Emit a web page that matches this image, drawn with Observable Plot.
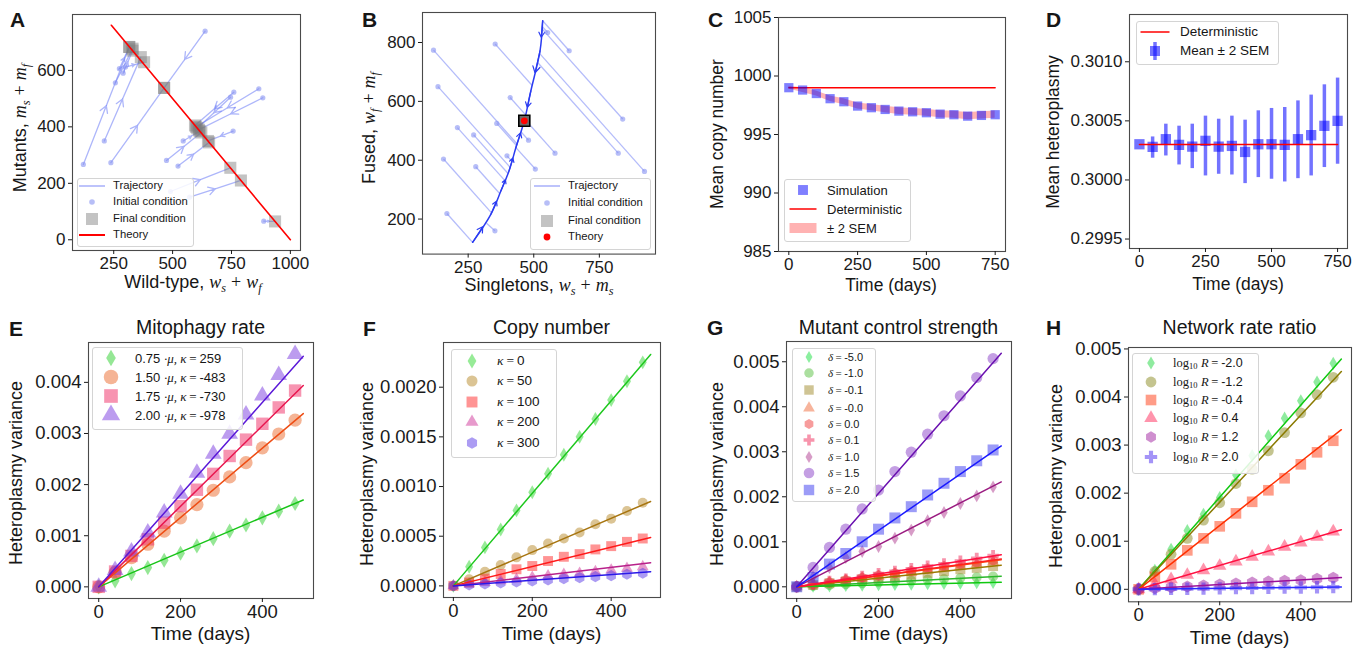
<!DOCTYPE html>
<html><head><meta charset="utf-8">
<script src="https://cdn.jsdelivr.net/npm/d3@7"></script>
<script src="https://cdn.jsdelivr.net/npm/@observablehq/plot@0.6"></script>
<style>
html,body{margin:0;padding:0;background:#fff;}
#page{position:relative;width:1367px;height:651px;overflow:hidden;font-family:"Liberation Sans",Arial,Helvetica,sans-serif;color:#161616;}
.abs{position:absolute;white-space:nowrap;line-height:1;}
.m{font-family:"Liberation Serif","DejaVu Serif",serif;font-style:italic;}
.rm{font-family:"Liberation Serif","DejaVu Serif",serif;font-style:normal;}
.eq{font-family:"Liberation Serif","DejaVu Serif",serif;font-style:normal;margin:0 0.22em;}
sub{font-size:0.68em;vertical-align:-0.32em;line-height:0;}
.lgbox{position:absolute;border:1px solid #d4d4d4;border-radius:3px;background:rgba(255,255,255,0.85);}
</style></head><body><div id="page"></div>
<script>
// ================= DATA =================
// Panel A : trajectories in (wild-type, mutant) space
const aInitW = [638, 121, 210, 238, 257, 274, 290, 300, 866, 883, 760, 746, 757, 545, 474, 523, 491, 572, 887];
const aInitM = [739, 267, 350, 273, 556, 606, 590, 612, 535, 503, 523, 505, 385, 350, 281, 261, 171, 151, 66];
const aFinW  = [464, 316, 365, 464, 330, 316, 330, 379, 600, 612, 595, 605, 650, 615, 622, 655, 745, 790, 935];
const aFinM  = [538, 683, 647, 538, 677, 683, 670, 629, 400, 390, 405, 395, 350, 385, 380, 345, 255, 210, 65];
const aTheoryW = [240, 1000];
const aTheoryM = [760, 0];
const aLegend = ["Trajectory", "Initial condition", "Final condition", "Theory"];

// Panel B : trajectories in (singletons, fused) space
const bInitX = [118, 135, 209, 156, 169, 353, 359, 271, 279, 398, 410, 480, 506, 352, 553, 635, 581, 822, 839, 922];
const bInitY = [774, 650, 511, 404, 219, 795, 525, 486, 378, 415, 613, 468, 370, 160, 834, 772, 424, 424, 540, 362];
const bJoinX = [437, 410, 391, 339, 267, 494, 434, 402, 370, 417, 469, 451, 432, 320, 532, 534, 465, 514, 531, 522];
const bJoinY = [455, 376, 330, 221, 121, 654, 450, 355, 287, 396, 554, 497, 443, 186, 855, 874, 540, 733, 847, 763];
const bManX = [534, 524, 489, 464, 432, 406, 375, 337, 267];
const bManY = [874, 772, 636, 534, 443, 364, 296, 217, 121];
const bFixed = [464, 534];
const bLegend = ["Trajectory", "Initial condition", "Final condition", "Theory"];

// Panel C : mean copy number
const cTime = [0, 50, 100, 150, 200, 250, 300, 350, 400, 450, 500, 550, 600, 650, 700, 750];
const cSim  = [999.0, 998.8, 998.5, 998.06, 997.8, 997.43, 997.29, 997.14, 997.0, 996.94, 996.86, 996.74, 996.69, 996.57, 996.63, 996.69];
const cSem2 = [0.12, 0.2, 0.22, 0.24, 0.25, 0.26, 0.27, 0.28, 0.28, 0.29, 0.29, 0.3, 0.3, 0.3, 0.31, 0.31];
const cDet = 999.0;
const cLegend = ["Simulation", "Deterministic", "± 2 SEM"];

// Panel D : mean heteroplasmy
const dTime = [0, 50, 100, 150, 200, 250, 300, 350, 400, 450, 500, 550, 600, 650, 700, 750];
const dMean = [0.300302, 0.300280, 0.300345, 0.300297, 0.300282, 0.300331, 0.300282, 0.300288, 0.300237, 0.300302, 0.300302, 0.300297, 0.300345, 0.300379, 0.300458, 0.300500];
const dHi   = [0.300302, 0.300364, 0.300472, 0.300455, 0.300472, 0.300540, 0.300514, 0.300540, 0.300506, 0.300585, 0.300605, 0.300613, 0.300669, 0.300718, 0.300805, 0.300862];
const dLo   = [0.300302, 0.300184, 0.300203, 0.300127, 0.300096, 0.300034, 0.300048, 0.300042, 0.299969, 0.300020, 0.300006, 0.299983, 0.300011, 0.300034, 0.300105, 0.300133];
const dDet = 0.3003;
const dLegend = ["Deterministic", "Mean ± 2 SEM"];

// Panels E-H : heteroplasmy variance vs time
const vTime = [0, 40, 80, 120, 160, 200, 240, 280, 320, 360, 400, 440, 480];
const fitTime = [0, 500];

const eMu = ["0.75", "1.50", "1.75", "2.00"];
const eKappa = ["259", "-483", "-730", "-978"];
const eV075 = [0, 0.000117, 0.00026, 0.000377, 0.00052, 0.000657, 0.0008, 0.000943, 0.00109, 0.00121, 0.00135, 0.00148, 0.00163];
const eV150 = [0, 0.00028, 0.000572, 0.000833, 0.00109, 0.00135, 0.00161, 0.00189, 0.00215, 0.00243, 0.00272, 0.00299, 0.00326];
const eV175 = [0, 0.0003, 0.000605, 0.00093, 0.001255, 0.00158, 0.0019, 0.00221, 0.00256, 0.00288, 0.00319, 0.00351, 0.00384];
const eV200 = [0, 0.000325, 0.00069, 0.00106, 0.00145, 0.00182, 0.00223, 0.0026, 0.00299, 0.00337, 0.00374, 0.00414, 0.00455];
const eFitEnd = [0.0017, 0.00339, 0.00394, 0.00451];

const fKappa = ["0", "50", "100", "200", "300"];
const fV0   = [0, 0.000193, 0.000387, 0.000567, 0.00076, 0.000943, 0.00113, 0.00132, 0.0015, 0.00168, 0.00187, 0.00206, 0.00225];
const fV50  = [0, 0.000067, 0.000143, 0.00021, 0.000287, 0.00036, 0.000427, 0.000477, 0.000537, 0.00062, 0.000677, 0.000753, 0.000837];
const fV100 = [0, 0.000033, 0.000073, 0.00012, 0.000167, 0.0002, 0.00025, 0.000293, 0.00032, 0.000367, 0.0004, 0.000443, 0.000477];
const fV200 = [0, 0.00002, 0.000033, 0.00005, 0.000067, 0.000087, 0.0001, 0.000117, 0.000127, 0.000143, 0.00016, 0.000177, 0.000193];
const fV300 = [0, 0.00001, 0.00002, 0.00003, 0.00004, 0.00005, 0.00006, 0.000073, 0.000083, 0.000093, 0.000103, 0.000117, 0.000127];
const fFitEnd = [0.00233, 0.00085, 0.000487, 0.000233, 0.000143];

const gDelta = ["-5.0", "-1.0", "-0.1", "-0.0", "0.0", "0.1", "1.0", "1.5", "2.0"];
const gVm50 = [0, 0.000008, 0.000015, 0.000022, 0.00003, 0.000038, 0.000046, 0.000052, 0.00006, 0.000068, 0.000075, 0.000083, 0.00009];
const gVm10 = [0, 0.00002, 0.00004, 0.000058, 0.00008, 0.0001, 0.000118, 0.000135, 0.000155, 0.000175, 0.000195, 0.00021, 0.00023];
const gVm01 = [0, 0.00004, 0.00008, 0.00012, 0.00016, 0.0002, 0.000235, 0.00027, 0.00031, 0.00035, 0.00039, 0.00042, 0.00046];
const gVm00 = [0, 0.000045, 0.00009, 0.00014, 0.00019, 0.00023, 0.00028, 0.00032, 0.00037, 0.00042, 0.00046, 0.0005, 0.00055];
const gVp00 = [0, 0.00005, 0.0001, 0.00015, 0.0002, 0.00025, 0.0003, 0.00035, 0.0004, 0.00045, 0.0005, 0.00054, 0.00059];
const gVp01 = [0, 0.00006, 0.00012, 0.00017, 0.00023, 0.00029, 0.00034, 0.0004, 0.00046, 0.00051, 0.00057, 0.00063, 0.00069];
const gVp10 = [0, 0.000222, 0.00043, 0.00065, 0.000785, 0.000896, 0.00108, 0.00126, 0.00147, 0.00165, 0.00185, 0.00202, 0.00222];
const gVp15 = [0, 0.00043, 0.000874, 0.00128, 0.00173, 0.00215, 0.00256, 0.00299, 0.00339, 0.0038, 0.00424, 0.00465, 0.00507];
const gVp20 = [0, 0.000207, 0.000504, 0.00074, 0.001, 0.00128, 0.00153, 0.00178, 0.00204, 0.0023, 0.00256, 0.0028, 0.00304];
const gFitEnd = [0.0001, 0.000237, 0.00048, 0.0006, 0.00062, 0.00071, 0.00233, 0.00519, 0.00313];

const hLogR = ["-2.0", "-1.2", "-0.4", "0.4", "1.2", "2.0"];
const hVm20 = [0, 0.000396, 0.000833, 0.00122, 0.00156, 0.00191, 0.00238, 0.00278, 0.00319, 0.00356, 0.00392, 0.00431, 0.0047];
const hVm12 = [0, 0.00037, 0.00073, 0.00106, 0.00144, 0.0018, 0.0022, 0.0025, 0.00288, 0.00326, 0.00367, 0.00405, 0.00441];
const hVm04 = [0, 0.000257, 0.00052, 0.00081, 0.00106, 0.00131, 0.00158, 0.00182, 0.00206, 0.00231, 0.0026, 0.00285, 0.00309];
const hVp04 = [0, 0.000104, 0.000208, 0.000299, 0.000396, 0.000486, 0.000576, 0.000674, 0.000785, 0.000882, 0.000972, 0.00109, 0.0012];
const hVp12 = [0, 0.00002, 0.000045, 0.00006, 0.00008, 0.0001, 0.00012, 0.00014, 0.00016, 0.00018, 0.00019, 0.00022, 0.00024];
const hVp20 = [0, 0.000004, 0.000008, 0.000012, 0.000015, 0.00002, 0.000024, 0.000027, 0.000031, 0.000035, 0.000038, 0.000042, 0.000045];
const hFitEnd = [0.00479, 0.00453, 0.00332, 0.00124, 0.000243, 0.00005];

// ================= STYLES =================
const FONT = '"Liberation Sans", Arial, Helvetica, sans-serif';
const eStyle = [
  {sym: "diamond", r: 4.6, fill: "#2ccf2c", line: "#18c418"},
  {sym: "circle", r: 6.6, fill: "#ec6a2c", line: "#ee4d14"},
  {sym: "square", r: 7.0, fill: "#ef2a64", line: "#e8174f"},
  {sym: "triangle", r: 6.2, fill: "#7a3ae0", line: "#5a18d8"}];
const fStyle = [
  {sym: "diamond", r: 4.2, fill: "#2fd82f", line: "#1ec81e"},
  {sym: "circle", r: 5.0, fill: "#b88a2a", line: "#a77510"},
  {sym: "square", r: 5.6, fill: "#ff2a2a", line: "#ff1a1a"},
  {sym: "triangle", r: 4.4, fill: "#d0359a", line: "#b8208a"},
  {sym: "hexagon", r: 4.8, fill: "#5a3ae8", line: "#2a18e8"}];
const gStyle = [
  {sym: "diamond", r: 3.8, fill: "#18e040", line: "#10c810"},
  {sym: "circle", r: 5.0, fill: "#58c040", line: "#2ab82a"},
  {sym: "square", r: 5.6, fill: "#a08a2a", line: "#9a7a00"},
  {sym: "triangle", r: 4.6, fill: "#f06a3a", line: "#ff4a10"},
  {sym: "hexagon", r: 4.8, fill: "#f03a3a", line: "#ff2020"},
  {sym: "cross", r: 4.8, fill: "#f02a5a", line: "#ff1040"},
  {sym: "diamond", r: 3.9, fill: "#b03a90", line: "#9a1a80"},
  {sym: "circle", r: 5.6, fill: "#8a40c8", line: "#6a10b0"},
  {sym: "square", r: 6.2, fill: "#3a3af0", line: "#1a1aff"}];
const hStyle = [
  {sym: "diamond", r: 4.0, fill: "#20d840", line: "#10c810"},
  {sym: "circle", r: 5.4, fill: "#8a8a20", line: "#8a7a00"},
  {sym: "square", r: 6.0, fill: "#ff3a10", line: "#ff3000"},
  {sym: "triangle", r: 5.0, fill: "#ff2a5a", line: "#ff1040"},
  {sym: "hexagon", r: 5.2, fill: "#a020a0", line: "#9a109a"},
  {sym: "cross", r: 5.2, fill: "#4a2af0", line: "#2a2aff"}];

const page = document.getElementById("page");

// ================= HELPERS =================
function panel(frame, xDomain, yDomain, xTicks, yTicks, xFmt, yFmt, tickFont, marks) {
  const mL = 78, mR = 16, mT = 12, mB = 36;
  const w = frame.x1 - frame.x0 + mL + mR;
  const h = frame.y1 - frame.y0 + mT + mB;
  const svg = Plot.plot({
    width: w, height: h, marginLeft: mL, marginRight: mR, marginTop: mT, marginBottom: mB,
    style: {fontFamily: FONT, fontSize: tickFont + "px", background: "transparent", color: "#1a1a1a", overflow: "visible"},
    x: {domain: xDomain}, y: {domain: yDomain},
    marks: [
      ...marks,
      Plot.frame({stroke: "#4a4a4a", strokeWidth: 1.1}),
      Plot.axisX(xTicks, {tickSize: 4, tickPadding: 2.5, tickFormat: xFmt, label: null, fontSize: tickFont}),
      Plot.axisY(yTicks, {tickSize: 4, tickPadding: 3, tickFormat: yFmt, label: null, fontSize: tickFont})
    ]
  });
  svg.style.position = "absolute";
  svg.style.left = (frame.x0 - mL) + "px";
  svg.style.top = (frame.y0 - mT) + "px";
  page.appendChild(svg);
}
function txt(html, x, baseline, size, opts = {}) {
  const d = document.createElement("div");
  d.className = "abs";
  d.innerHTML = html;
  d.style.fontSize = size + "px";
  d.style.left = x + "px";
  d.style.top = (baseline - 0.8465 * size) + "px";
  if (opts.bold) d.style.fontWeight = "bold";
  if (opts.center) d.style.transform = "translateX(-50%)";
  page.appendChild(d);
}
function clabel(html, cx, cy, size, rotate) {
  const d = document.createElement("div");
  d.className = "abs";
  d.innerHTML = html;
  d.style.fontSize = size + "px";
  d.style.left = cx + "px";
  d.style.top = cy + "px";
  d.style.transform = rotate ? "translate(-50%,-50%) rotate(-90deg)" : "translate(-50%,-50%)";
  page.appendChild(d);
}
function hexPath(r) {
  const rx = r, ry = r * 1.1547, hy = ry / 2;
  return `M0,${-ry}L${rx},${-hy}L${rx},${hy}L0,${ry}L${-rx},${hy}L${-rx},${-hy}Z`;
}
function symPath(kind, r) {
  if (kind === "hexagon") return hexPath(Math.sqrt(Math.PI * r * r / (2 * 1.732)));
  const map = {circle: d3.symbolCircle, square: d3.symbolSquare, diamond: d3.symbolDiamond, triangle: d3.symbolTriangle, cross: d3.symbolCross};
  return d3.symbol(map[kind], Math.PI * r * r)();
}
function legend(box, rows, symX, textX, size, items) {
  const b = document.createElement("div");
  b.className = "lgbox";
  b.style.left = box[0] + "px"; b.style.top = box[1] + "px";
  b.style.width = box[2] + "px"; b.style.height = box[3] + "px";
  page.appendChild(b);
  const svg = d3.create("svg").attr("width", box[2]).attr("height", box[3])
    .style("position", "absolute").style("left", box[0] + "px").style("top", box[1] + "px").style("overflow", "visible");
  items.forEach((it, i) => {
    const cx = symX - box[0], cy = rows[i] - box[1];
    const s = it.sym;
    if (s.kind === "line") {
      svg.append("line").attr("x1", cx - s.len / 2).attr("x2", cx + s.len / 2).attr("y1", cy).attr("y2", cy)
        .attr("stroke", s.color).attr("stroke-width", s.width).attr("stroke-opacity", s.opacity ?? 1);
    } else if (s.kind === "band") {
      svg.append("rect").attr("x", cx - s.len / 2).attr("y", cy - s.h / 2).attr("width", s.len).attr("height", s.h)
        .attr("fill", s.color).attr("fill-opacity", s.opacity);
    } else if (s.kind === "errsq") {
      svg.append("line").attr("x1", cx).attr("x2", cx).attr("y1", cy - 9).attr("y2", cy + 9)
        .attr("stroke", s.color).attr("stroke-width", 3.5).attr("stroke-opacity", s.opacity);
      svg.append("rect").attr("x", cx - 5).attr("y", cy - 5).attr("width", 10).attr("height", 10)
        .attr("fill", s.color).attr("fill-opacity", s.opacity);
    } else {
      svg.append("path").attr("d", symPath(s.kind, s.r)).attr("transform", `translate(${cx},${cy})`)
        .attr("fill", s.color).attr("fill-opacity", s.opacity ?? 1)
        .attr("stroke", s.stroke ?? "none");
    }
    const d = document.createElement("div");
    d.className = "abs";
    d.innerHTML = it.html;
    d.style.fontSize = size + "px";
    d.style.left = textX + "px";
    d.style.top = rows[i] + "px";
    d.style.transform = "translateY(-50%)";
    page.appendChild(d);
  });
  page.appendChild(svg.node());
}
const mi = s => `<span class="m">${s}</span>`;
const sb = s => `<sub class="m">${s}</sub>`;
const rm = s => `<span class="rm">${s}</span>`;
const EQ = `<span class="eq">=</span>`;
const fmtInt = d3.format("d");

// variance panel marks
function varianceMarks(seriesValues, fitEnds, styles) {
  const marks = [];
  seriesValues.forEach((vals, k) => {
    const st = styles[k];
    marks.push(Plot.dot(vTime, {x: d => d, y: (d, i) => vals[i], symbol: st.sym, r: st.r, fill: st.fill, fillOpacity: 0.5, stroke: "none"}));
  });
  seriesValues.forEach((vals, k) => {
    const st = styles[k];
    marks.push(Plot.line(fitTime, {x: d => d, y: (d, i) => i === 0 ? 0 : fitEnds[k], stroke: st.line, strokeWidth: 1.5}));
  });
  return marks;
}

// ================= PANEL A =================
const aIdx = d3.range(aInitW.length);
const trajBlue = "#6a7af5";
const midW = i => aInitW[i] + 0.5 * (aFinW[i] - aInitW[i]);
const midM = i => aInitM[i] + 0.5 * (aFinM[i] - aInitM[i]);
panel({x0: 71.5, x1: 299.5, y0: 14, y1: 250}, [75, 1043], [-38, 798], [250, 500, 750, 1000], [0, 200, 400, 600], fmtInt, fmtInt, 17, [
  Plot.arrow(aIdx, {x1: i => aInitW[i], y1: i => aInitM[i], x2: midW, y2: midM,
                    stroke: trajBlue, strokeOpacity: 0.55, strokeWidth: 1.3, headLength: 9, headAngle: 60}),
  Plot.link(aIdx, {x1: midW, y1: midM, x2: i => aFinW[i], y2: i => aFinM[i], stroke: trajBlue, strokeOpacity: 0.55, strokeWidth: 1.3}),
  Plot.dot(aIdx, {x: i => aInitW[i], y: i => aInitM[i], r: 2.6, fill: "#8792f2", fillOpacity: 0.6}),
  Plot.dot(aIdx, {x: i => aFinW[i], y: i => aFinM[i], symbol: "square", r: 6.8, fill: "#7a7a7a", fillOpacity: 0.45}),
  Plot.line([0, 1], {x: i => aTheoryW[i], y: i => aTheoryM[i], stroke: "#ff0000", strokeWidth: 1.6})
]);

// ================= PANEL B =================
const bIdx = d3.range(bInitX.length);
const bArrowPairs = [[0, 1], [1, 2], [2, 3], [8, 7], [7, 6], [6, 5], [5, 4], [4, 3]];
panel({x0: 421.5, x1: 654.5, y0: 11.7, y1: 253.3}, [76, 964], [81, 902], [250, 500, 750], [200, 400, 600, 800], fmtInt, fmtInt, 17, [
  Plot.link(bIdx, {x1: i => bInitX[i], y1: i => bInitY[i], x2: i => bJoinX[i], y2: i => bJoinY[i], stroke: trajBlue, strokeOpacity: 0.5, strokeWidth: 1.3}),
  Plot.line(d3.range(bManX.length), {x: i => bManX[i], y: i => bManY[i], stroke: "#2b3cf2", strokeWidth: 1.5, curve: "catmull-rom"}),
  Plot.arrow(bArrowPairs, {x1: p => bManX[p[0]], y1: p => bManY[p[0]],
                           x2: p => bManX[p[0]] + 0.55 * (bManX[p[1]] - bManX[p[0]]), y2: p => bManY[p[0]] + 0.55 * (bManY[p[1]] - bManY[p[0]]),
                           stroke: "#2b3cf2", strokeWidth: 1.2, headLength: 9, headAngle: 60}),
  Plot.dot(bIdx, {x: i => bInitX[i], y: i => bInitY[i], r: 2.6, fill: "#8792f2", fillOpacity: 0.6}),
  Plot.dot([0], {x: () => bFixed[0], y: () => bFixed[1], symbol: "square", r: 6.2, fill: "#6a6a6a", stroke: "#000", strokeWidth: 1.6}),
  Plot.dot([0], {x: () => bFixed[0], y: () => bFixed[1], r: 3.4, fill: "#ff0000"})
]);

// ================= PANEL C =================
panel({x0: 778, x1: 1005, y0: 17, y1: 251}, [-37.5, 787.5], [985, 1005], [0, 250, 500, 750], [985, 990, 995, 1000, 1005], fmtInt, fmtInt, 17, [
  Plot.areaY(cTime, {x: d => d, y1: (d, i) => cSim[i] - cSem2[i], y2: (d, i) => cSim[i] + cSem2[i], fill: "#ff0000", fillOpacity: 0.3}),
  Plot.line([0, 750], {x: d => d, y: () => cDet, stroke: "#ff0000", strokeWidth: 1.4}),
  Plot.dot(cTime, {x: d => d, y: (d, i) => cSim[i], symbol: "square", r: 5.2, fill: "#0000ff", fillOpacity: 0.5})
]);

// ================= PANEL D =================
panel({x0: 1129, x1: 1347, y0: 14, y1: 248}, [-37.5, 787.5], [0.29942, 0.30140], [0, 250, 500, 750], [0.2995, 0.3000, 0.3005, 0.3010], fmtInt, d3.format(".4f"), 17, [
  Plot.ruleX(dTime, {x: d => d, y1: (d, i) => dLo[i], y2: (d, i) => dHi[i], stroke: "#0000ff", strokeOpacity: 0.55, strokeWidth: 3.5}),
  Plot.dot(dTime, {x: d => d, y: (d, i) => dMean[i], symbol: "square", r: 5.8, fill: "#0000ff", fillOpacity: 0.55}),
  Plot.line([0, 750], {x: d => d, y: () => dDet, stroke: "#ff0000", strokeWidth: 1.4})
]);

// ================= PANELS E-H =================
const tf3 = d3.format(".3f"), tf4 = d3.format(".4f");
panel({x0: 88, x1: 313, y0: 341.7, y1: 597.7}, [-25, 525], [-0.000228, 0.00478], [0, 200, 400], [0, 0.001, 0.002, 0.003, 0.004], fmtInt, tf3, 18.5,
  varianceMarks([eV075, eV150, eV175, eV200], eFitEnd, eStyle));
panel({x0: 443, x1: 660, y0: 341.7, y1: 596.7}, [-25, 525], [-0.000117, 0.00245], [0, 200, 400], [0, 0.0005, 0.001, 0.0015, 0.002], fmtInt, tf4, 18.5,
  varianceMarks([fV0, fV50, fV100, fV200, fV300], fFitEnd, fStyle));
panel({x0: 786, x1: 1011, y0: 340.7, y1: 597.7}, [-25, 525], [-0.00026, 0.00545], [0, 200, 400], [0, 0.001, 0.002, 0.003, 0.004, 0.005], fmtInt, tf3, 18.5,
  varianceMarks([gVm50, gVm10, gVm01, gVm00, gVp00, gVp01, gVp10, gVp15, gVp20], gFitEnd, gStyle));
panel({x0: 1128, x1: 1351, y0: 346.7, y1: 601}, [-25, 525], [-0.00026, 0.00503], [0, 200, 400], [0, 0.001, 0.002, 0.003, 0.004, 0.005], fmtInt, tf3, 18.5,
  varianceMarks([hVm20, hVm12, hVm04, hVp04, hVp12, hVp20], hFitEnd, hStyle));

// ================= TEXT: letters, titles, axis labels =================
const letters = [["A", 10, 27], ["B", 362, 27], ["C", 708, 27], ["D", 1046, 27], ["E", 9, 336], ["F", 363, 336], ["G", 707, 335], ["H", 1046, 335]];
letters.forEach(([l, x, y]) => txt(l, x, y, 21, {bold: true}));
txt("Mitophagy rate", 200.5, 335, 19.5, {center: true});
txt("Copy number", 551.5, 335, 19.5, {center: true});
txt("Mutant control strength", 898.5, 335, 19.5, {center: true});
txt("Network rate ratio", 1239.5, 335, 19.5, {center: true});

clabel(`Mutants, ${mi("m")}${sb("s")} ${rm("+")} ${mi("m")}${sb("f")}`, 20, 128, 18, true);
clabel(`Wild-type, ${mi("w")}${sb("s")} ${rm("+")} ${mi("w")}${sb("f")}`, 193, 282, 18, false);
clabel(`Fused, ${mi("w")}${sb("f")} ${rm("+")} ${mi("m")}${sb("f")}`, 369, 128, 18, true);
clabel(`Singletons, ${mi("w")}${sb("s")} ${rm("+")} ${mi("m")}${sb("s")}`, 539, 285, 18, false);
clabel("Mean copy number", 718, 134, 17.5, true);
clabel("Time (days)", 891, 286, 17.5, false);
clabel("Mean heteroplasmy", 1054, 132, 17.5, true);
clabel("Time (days)", 1238, 285, 17.5, false);
[[16, 200.5, 473, 633], [367, 551.5, 474, 633], [717, 898.5, 474, 633], [1056, 1239.5, 476, 637]].forEach(([yx, xx, yy, xy]) => {
  clabel("Heteroplasmy variance", yx, yy, 18, true);
  clabel("Time (days)", xx, xy, 19, false);
});

// ================= LEGENDS =================
const gray = {kind: "square", r: 6.8, color: "#7a7a7a", opacity: 0.45};
legend([77, 178, 115, 67], [186, 202, 219, 235], 92, 113, 11.3, [
  {html: aLegend[0], sym: {kind: "line", len: 26, color: trajBlue, width: 1.5, opacity: 0.6}},
  {html: aLegend[1], sym: {kind: "circle", r: 2.8, color: "#8792f2", opacity: 0.6}},
  {html: aLegend[2], sym: gray},
  {html: aLegend[3], sym: {kind: "line", len: 26, color: "#ff0000", width: 2}}]);
legend([530, 178, 119, 70], [186, 203, 221, 237], 547, 568, 11.3, [
  {html: bLegend[0], sym: {kind: "line", len: 26, color: trajBlue, width: 1.5, opacity: 0.6}},
  {html: bLegend[1], sym: {kind: "circle", r: 2.8, color: "#8792f2", opacity: 0.6}},
  {html: bLegend[2], sym: gray},
  {html: bLegend[3], sym: {kind: "circle", r: 3.4, color: "#ff0000"}}]);
legend([784, 179, 125, 61], [190, 209, 228], 803, 827, 13, [
  {html: cLegend[0], sym: {kind: "square", r: 5.6, color: "#0000ff", opacity: 0.5}},
  {html: cLegend[1], sym: {kind: "line", len: 27, color: "#ff0000", width: 1.5}},
  {html: cLegend[2], sym: {kind: "band", len: 27, h: 10, color: "#ff0000", opacity: 0.3}}]);
legend([1136, 21, 141, 42], [32, 51], 1155, 1180, 13.5, [
  {html: dLegend[0], sym: {kind: "line", len: 29, color: "#ff0000", width: 1.5}},
  {html: dLegend[1], sym: {kind: "errsq", color: "#0000ff", opacity: 0.55}}]);
legend([92, 347, 149, 81], [358, 377, 396, 415], 111, 135, 13,
  eMu.map((m, i) => ({html: `${m} ${mi("·μ, κ")}${EQ}${eKappa[i]}`, sym: {kind: eStyle[i].sym, r: eStyle[i].r * 1.1, color: eStyle[i].fill, opacity: 0.5}})));
legend([451, 349, 104, 107], [361, 381, 402, 422, 443], 472, 497, 13.5,
  fKappa.map((k, i) => ({html: `${mi("κ")}${EQ}${k}`, sym: {kind: fStyle[i].sym, r: fStyle[i].r * 1.1, color: fStyle[i].fill, opacity: 0.5}})));
legend([792, 348, 82, 152], [357, 373, 390, 408, 424, 440, 457, 473, 490], 809, 828, 11,
  gDelta.map((v, i) => ({html: `${mi("δ")}${EQ}${v}`, sym: {kind: gStyle[i].sym, r: gStyle[i].r * 0.95, color: gStyle[i].fill, opacity: 0.5}})));
legend([1132, 353, 125, 119], [363, 382, 400, 418, 437, 457], 1151, 1173, 12.5,
  hLogR.map((v, i) => ({html: `${rm("log")}${sb('<span style="font-style:normal">10</span>')} ${mi("R")}${EQ}${v}`, sym: {kind: hStyle[i].sym, r: hStyle[i].r, color: hStyle[i].fill, opacity: 0.5}})));
</script></body></html>
